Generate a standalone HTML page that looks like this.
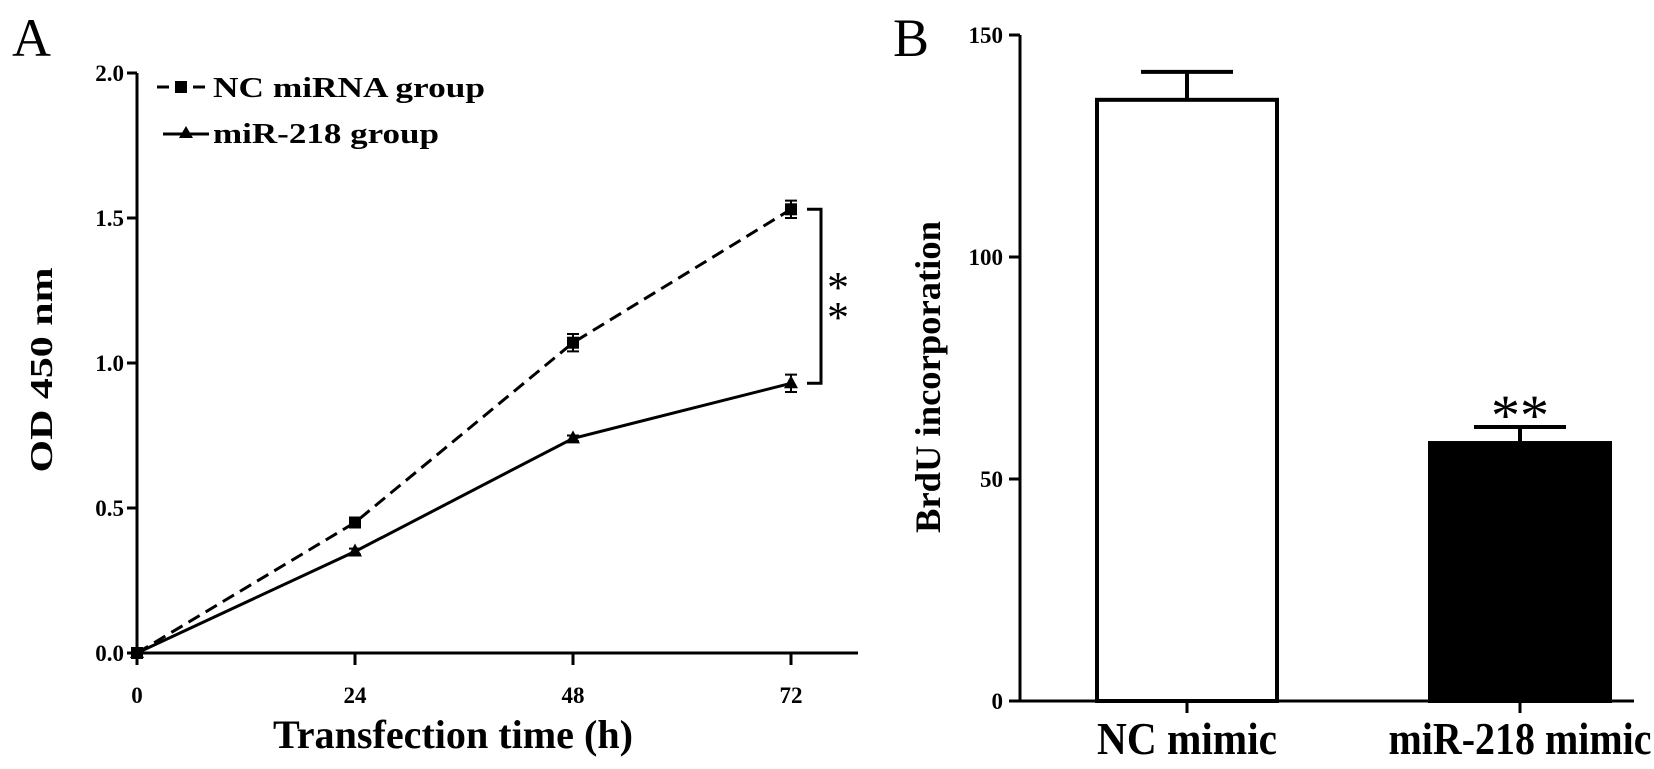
<!DOCTYPE html>
<html><head><meta charset="utf-8"><style>
html,body{margin:0;padding:0;background:#fff;}
svg{display:block;font-family:"Liberation Serif",serif;}
</style></head><body>
<svg id="fig" width="1654" height="769" viewBox="0 0 1654 769" xmlns="http://www.w3.org/2000/svg">
<g id="pa"></g>
<g id="pb"></g>
</svg>
<script>
// Panel A data
const times = [0, 24, 48, 72];
const ncValues = [0, 0.45, 1.07, 1.53];
const ncErrors = [0, 0.01, 0.03, 0.03];
const mirValues = [0, 0.35, 0.74, 0.93];
const mirErrors = [0, 0.01, 0.01, 0.03];
const yTicksA = [0, 0.5, 1.0, 1.5, 2.0];
const yTickLabelsA = ["0.0", "0.5", "1.0", "1.5", "2.0"];
// Panel B data
const categories = ["NC mimic", "miR-218 mimic"];
const barValues = [135.4, 58.1];
const barErrors = [6.3, 3.6];
const yTicksB = [0, 50, 100, 150];

const NS = "http://www.w3.org/2000/svg";
function mk(parent, tag, attrs, text) {
  const e = document.createElementNS(NS, tag);
  for (const k in attrs) e.setAttribute(k, attrs[k]);
  if (text !== undefined) e.textContent = text;
  parent.appendChild(e);
  return e;
}
const pa = document.getElementById("pa");
const pb = document.getElementById("pb");

// Axis functions A
const xA = t => 137 + (t / 72) * (791 - 137);
const yA = v => 653 - (v / 2.0) * (653 - 73);

let e;
e = mk(pa, "text", {x: 12, y: 56, "font-size": 54}, "A");



e = mk(pa, "line", {x1: 137, y1: yA(2.0), x2: 137, y2: 653, stroke: "#000", "stroke-width": 3});


e = mk(pa, "line", {x1: 137, y1: 653, x2: 858, y2: 653, stroke: "#000", "stroke-width": 3});



yTicksA.forEach((v, i) => {
  const t = mk(pa, "line", {x1: 127, y1: yA(v), x2: 137, y2: yA(v), stroke: "#000", "stroke-width": 3});
  
  
  const l = mk(pa, "text", {x: 124, y: yA(v) + 8, "font-size": 23, "font-weight": "bold", "text-anchor": "end"}, yTickLabelsA[i]);
  
  
});
times.forEach(t => {
  const tk = mk(pa, "line", {x1: xA(t), y1: 653, x2: xA(t), y2: 665, stroke: "#000", "stroke-width": 3});
  
  
  const l = mk(pa, "text", {x: xA(t), y: 703, "font-size": 23, "font-weight": "bold", "text-anchor": "middle"}, String(t));
  
  
});
e = mk(pa, "text", {x: 453, y: 748, "font-size": 40, "font-weight": "bold", "text-anchor": "middle", textLength: 360, lengthAdjust: "spacingAndGlyphs"}, "Transfection time (h)");


e = mk(pa, "text", {x: 0, y: 0, "font-size": 32, "font-weight": "bold", "text-anchor": "middle", transform: "translate(52,370) rotate(-90)", textLength: 205, lengthAdjust: "spacingAndGlyphs"}, "OD 450 nm");



function series(vals, errs, dashed, marker, name) {
  const pts = vals.map((v, i) => xA(times[i]) + "," + yA(v)).join(" ");
  const ln = mk(pa, "polyline", {points: pts, fill: "none", stroke: "#000", "stroke-width": 3, "stroke-dasharray": dashed ? "13,7" : "none"});
  
  
  vals.forEach((v, i) => {
    const x = xA(times[i]);
    if (errs[i] > 0) {
      const eb = mk(pa, "path", {d: `M${x},${yA(v + errs[i])}V${yA(v - errs[i])}M${x - 6},${yA(v + errs[i])}H${x + 6}M${x - 6},${yA(v - errs[i])}H${x + 6}`, stroke: "#000", "stroke-width": 2, fill: "none"});
      
      
    }
    let m;
    if (marker === "square") m = mk(pa, "rect", {x: x - 6, y: yA(v) - 6, width: 12, height: 12, fill: "#000"});
    else m = mk(pa, "polygon", {points: `${x},${yA(v) - 8} ${x - 7},${yA(v) + 5} ${x + 7},${yA(v) + 5}`, fill: "#000"});
    
    
  });
}
series(ncValues, ncErrors, true, "square", "nc-mirna");
series(mirValues, mirErrors, false, "triangle", "mir-218");

// significance bracket
const bx = 821;
e = mk(pa, "path", {d: `M${bx - 14},${yA(ncValues[3])}H${bx}V${yA(mirValues[3])}H${bx - 14}`, stroke: "#000", "stroke-width": 3, fill: "none"});


e = mk(pa, "text", {x: 838, y: 302, "font-size": 44, "text-anchor": "middle"}, "*");


e = mk(pa, "text", {x: 838, y: 332, "font-size": 44, "text-anchor": "middle"}, "*");



// legend
e = mk(pa, "line", {x1: 157, y1: 87, x2: 205, y2: 87, stroke: "#000", "stroke-width": 3, "stroke-dasharray": "12,6"});


e = mk(pa, "rect", {x: 175, y: 81, width: 12, height: 12, fill: "#000"});


e = mk(pa, "text", {x: 213, y: 97, "font-size": 28, "font-weight": "bold", textLength: 272, lengthAdjust: "spacingAndGlyphs"}, "NC miRNA group");


e = mk(pa, "line", {x1: 163, y1: 134, x2: 209, y2: 134, stroke: "#000", "stroke-width": 3});


e = mk(pa, "polygon", {points: "186,126 179,138 193,138", fill: "#000"});


e = mk(pa, "text", {x: 213, y: 143, "font-size": 28, "font-weight": "bold", textLength: 226, lengthAdjust: "spacingAndGlyphs"}, "miR-218 group");



// Panel B
const yB = v => 701 - (v / 150) * (701 - 35);
const barCenters = [1187, 1520];
const xB = i => barCenters[i];
const barW = 180;

e = mk(pb, "text", {x: 893, y: 56, "font-size": 54}, "B");


e = mk(pb, "line", {x1: 1020, y1: yB(150), x2: 1020, y2: 701, stroke: "#000", "stroke-width": 3});


e = mk(pb, "line", {x1: 1020, y1: 701, x2: 1634, y2: 701, stroke: "#000", "stroke-width": 3});


yTicksB.forEach(v => {
  const t = mk(pb, "line", {x1: 1009, y1: yB(v), x2: 1020, y2: yB(v), stroke: "#000", "stroke-width": 3});
  
  
  const l = mk(pb, "text", {x: 1003, y: yB(v) + 8, "font-size": 23, "font-weight": "bold", "text-anchor": "end"}, String(v));
  
  
});
e = mk(pb, "text", {x: 0, y: 0, "font-size": 36, "font-weight": "bold", "text-anchor": "middle", transform: "translate(940,377) rotate(-90)", textLength: 312, lengthAdjust: "spacingAndGlyphs"}, "BrdU incorporation");



categories.forEach((c, i) => {
  const cx = xB(i), v = barValues[i], er = barErrors[i];
  const eb = mk(pb, "path", {d: `M${cx},${yB(v)}V${yB(v + er)}M${cx - 46},${yB(v + er)}H${cx + 46}`, stroke: "#000", "stroke-width": 4, fill: "none"});
  
  
  const r = mk(pb, "rect", {x: cx - barW / 2, y: yB(v), width: barW, height: yB(0) - yB(v), fill: i === 0 ? "#fff" : "#000", stroke: "#000", "stroke-width": 4});
  
  
  const t = mk(pb, "line", {x1: cx, y1: 701, x2: cx, y2: 713, stroke: "#000", "stroke-width": 3});
  
  
  const l = mk(pb, "text", {x: cx, y: 754, "font-size": 46, "font-weight": "bold", "text-anchor": "middle", textLength: i === 0 ? 180 : 263, lengthAdjust: "spacingAndGlyphs"}, c);
  
  
});
e = mk(pb, "text", {x: xB(1), y: yB(barValues[1] + barErrors[1]) + 8, "font-size": 58, "text-anchor": "middle"}, "**");


</script>
</body></html>
